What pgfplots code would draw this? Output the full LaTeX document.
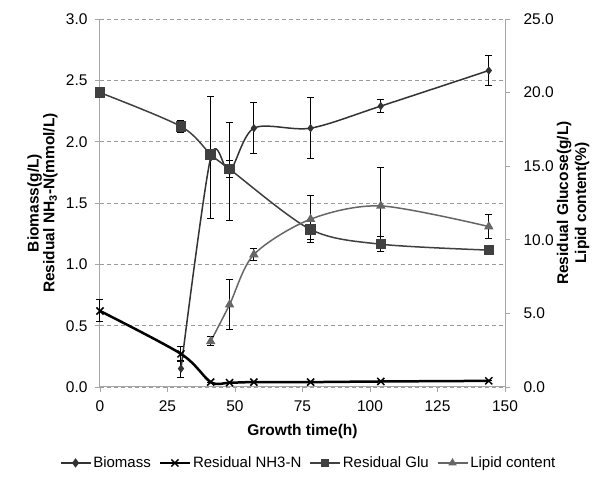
\documentclass[border=0pt]{standalone}
\usepackage{fontspec}
\setmainfont{Liberation Sans}
\usepackage{pgfplots}
\pgfplotsset{compat=1.18}
\definecolor{gluc}{HTML}{404040}
\definecolor{lipc}{HTML}{666666}
\definecolor{bioc}{HTML}{333333}
\definecolor{axc}{HTML}{A6A6A6}
\definecolor{gridc}{HTML}{9A9A9A}
\begin{document}
\begin{tikzpicture}
\useasboundingbox (-100pt,-108pt) rectangle (500pt,387pt);
\pgfplotsset{
  common/.style={
    scale only axis, width=405pt, height=368pt,
    xmin=0, xmax=150,
    clip=false,
    tick align=outside,
    major tick length=5pt,
    tick style={axc, line width=0.8pt},
    axis line style={axc, line width=1pt},
    ticklabel style={font=\fontsize{15.5}{17}\selectfont},
    /pgf/number format/assume math mode=true,
    yticklabel style={/pgf/number format/fixed, /pgf/number format/fixed zerofill, /pgf/number format/precision=1},
    legend image code/.code={\draw[mark repeat=2,mark phase=2,##1] plot coordinates {(0pt,0pt) (15pt,0pt) (30pt,0pt)};},
  },
  eb/.style={error bars/.cd, y dir=both, y explicit,
    error bar style={black, line width=1pt, solid},
    error mark options={rotate=90, mark size=3.5pt, black, line width=1pt}},
}
\begin{axis}[common,
  axis x line*=bottom, axis y line*=left,
  ymin=0, ymax=3, ytick={0,0.5,...,3},
  xtick={0,25,...,150},
  xticklabel style={yshift=-5pt},
  yticklabel style={xshift=-4pt},
  ymajorgrids, major grid style={gridc, dash pattern=on 4pt off 3pt, line width=0.8pt},
  xlabel={Growth time(h)},
  xlabel style={font=\bfseries\fontsize{15.5}{17}\selectfont, at={(axis description cs:0.5,-0.122)}, anchor=center},
  ylabel={Biomass(g/L)\\Residual NH\textsubscript{3}-N(mmol/L)},
  ylabel style={font=\bfseries\fontsize{15.5}{13}\selectfont, align=center, at={(axis description cs:-0.142,0.5)}, anchor=center},
  legend style={at={(axis description cs:0.515,-0.2065)}, anchor=center, legend columns=4, draw=none, fill=none,
    font=\fontsize{15}{17}\selectfont, /tikz/every even column/.append style={column sep=6pt}},
]
\addlegendimage{bioc, line width=1.5pt, mark=diamond*, mark size=3.5pt}
\addlegendentry{Biomass}
\addlegendimage{black, line width=2.2pt, mark=x, mark size=5pt, mark options={line width=1.5pt}}
\addlegendentry{Residual NH3-N}
\addlegendimage{gluc, line width=1.5pt, mark=square*, mark size=3.5pt}
\addlegendentry{Residual Glu}
\addlegendimage{lipc, line width=1.5pt, mark=triangle*, mark size=3.5pt}
\addlegendentry{Lipid content}

\addplot[smooth, black, line width=2.5pt, mark=x, mark size=5pt, mark options={line width=1.5pt}, forget plot, eb]
table[x=t, y=v, y error=e] {
t v e
0 0.62 0.09
30 0.27 0.06
41 0.04 0
48 0.035 0
57 0.04 0
78 0.04 0
104 0.045 0
144 0.05 0
};
\addplot[smooth, bioc, line width=1.5pt, mark=diamond*, mark size=3pt, forget plot, eb]
table[x=t, y=v, y error=e] {
t v e
30 0.15 0.07
41 1.87 0.50
48 1.76 0.40
57 2.11 0.21
78 2.11 0.25
104 2.29 0.055
144 2.58 0.12
};
\end{axis}
\begin{axis}[common,
  axis y line*=right, axis x line=none,
  ymin=0, ymax=25, ytick={0,5,...,25},
  yticklabel style={xshift=10pt},
  ylabel={Residual Glucose(g/L)\\Lipid content(\%)},
  ylabel style={font=\bfseries\fontsize{15.5}{18}\selectfont, align=center, at={(axis description cs:1.168,0.5)}, anchor=center},
]
\addplot[smooth, gluc, line width=1.5pt, mark=square*, mark size=4.5pt, eb]
table[x=t, y=v, y error=e] {
t v e
0 20.0 0
30 17.7 0.4
41 15.8 0
48 14.8 0.6
78 10.7 0.7
104 9.7 0.5
144 9.3 0
};
\addplot[smooth, lipc, line width=1.5pt, mark=triangle*, mark size=4pt, eb]
table[x=t, y=v, y error=e] {
t v e
41 3.1 0.3
48 5.6 1.7
57 9.0 0.4
78 11.4 1.6
104 12.3 2.6
144 10.9 0.8
};
\end{axis}
\end{tikzpicture}
\end{document}
